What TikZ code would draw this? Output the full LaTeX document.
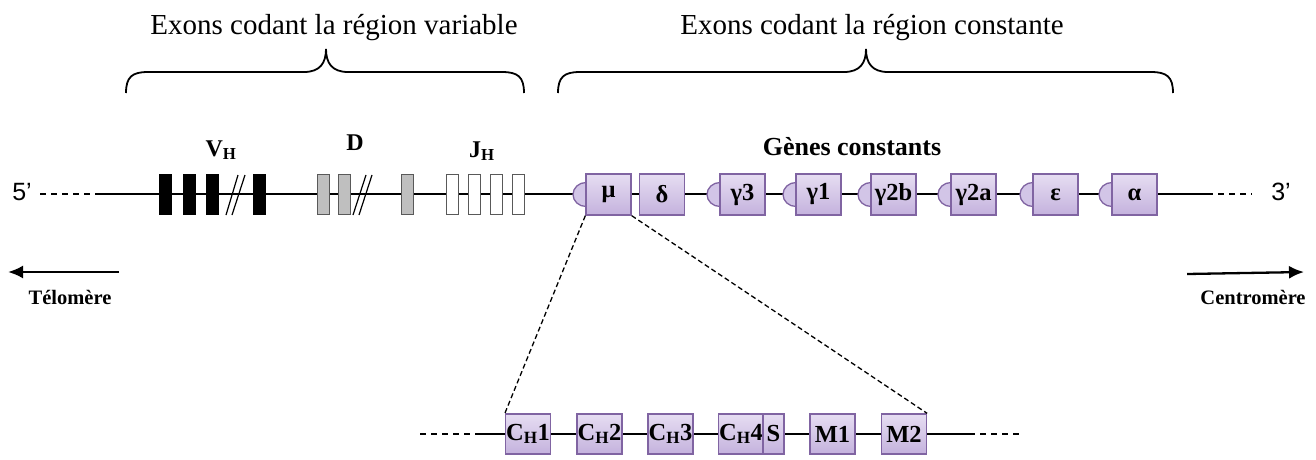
\documentclass[tikz,border=0pt]{standalone}
\usepackage{fontspec}
\setmainfont{Liberation Serif}
\newfontfamily\arialf{Liberation Sans}
\usetikzlibrary{shapes.geometric,arrows.meta}
\definecolor{lavtop}{HTML}{E6DDF2}
\definecolor{lavbot}{HTML}{C4B2DD}
\definecolor{lavborder}{HTML}{8064A2}
\definecolor{lavsemi}{HTML}{D2C5E7}
\definecolor{dgray}{HTML}{BFBFBF}
\definecolor{bordergray}{HTML}{595959}
\begin{document}
\begin{tikzpicture}[x=1pt,y=-1pt,
  gene/.style={draw=lavborder, line width=1.3pt, top color=lavtop, bottom color=lavbot,
    minimum width=45pt, minimum height=41pt, inner sep=0pt,
    font=\fontsize{24.5}{26}\selectfont\bfseries},
  genesm/.style={gene, minimum height=40pt},
  semi/.style={ellipse, draw=lavborder, line width=1.3pt, fill=lavsemi,
    minimum width=26pt, minimum height=24pt, inner sep=0pt},
  vbox/.style={fill=black, minimum width=13pt, minimum height=41pt, inner sep=0pt},
  dbox/.style={fill=dgray, draw=bordergray, line width=0.9pt, minimum width=12pt, minimum height=40pt, inner sep=0pt},
  jbox/.style={fill=white, draw=bordergray, line width=0.9pt, minimum width=12pt, minimum height=40pt, inner sep=0pt},
  backbone/.style={line width=1.8pt},
  dashbone/.style={line width=1.5pt, dash pattern=on 6pt off 5pt},
  slash/.style={line width=1.2pt},
  zoomline/.style={line width=1.3pt, dash pattern=on 5pt off 3pt},
  bracestyle/.style={line width=1.8pt},
  dirarrow/.style={line width=2.3pt, -{Latex[length=15pt,width=13pt]}},
  title/.style={font=\fontsize{29}{34}\selectfont, anchor=base},
  glabel/.style={font=\fontsize{24}{28}\selectfont\bfseries, anchor=base},
  dirlabel/.style={font=\fontsize{20.5}{24}\selectfont\bfseries, anchor=base},
  endlabel/.style={font=\arialf\fontsize{25}{28}\selectfont, inner sep=0pt}
]
\useasboundingbox (0,0) rectangle (1316,460);

% titles
\node[title] (t1) at (334,35) {Exons codant la région variable};
\node[title] (t2) at (872,35) {Exons codant la région constante};

% braces
\draw[bracestyle] (126,93) .. controls (126,77) and (132,72) .. (148,72) -- (304,72)
  .. controls (320,72) and (326,63) .. (326,49) .. controls (326,63) and (332,72) .. (348,72)
  -- (502,72) .. controls (518,72) and (524,77) .. (524,93);
\draw[bracestyle] (558,93) .. controls (558,77) and (564,72) .. (580,72) -- (844,72)
  .. controls (860,72) and (866,63) .. (866,49) .. controls (866,63) and (872,72) .. (888,72)
  -- (1151,72) .. controls (1167,72) and (1173,77) .. (1173,93);

% backbone
\coordinate (L0) at (40,194);
\coordinate (L1) at (97,194);
\coordinate (L2) at (1207,194);
\coordinate (L3) at (1252,194);
\draw[dashbone] (L0) -- (L1);
\draw[backbone] (L1) -- (L2);
\draw[dashbone] (L2) -- (L3);
\node[endlabel] (five) at (22,192) {5’};
\node[endlabel] (three) at (1281,192) {3’};

% V segments
\node[vbox] (v1) at (165.5,194.5) {};
\node[vbox] (v2) at (189.5,194.5) {};
\node[vbox] (v3) at (212.5,194.5) {};
\node[vbox] (v4) at (259.5,194.5) {};
\draw[slash] (226,215) -- (238,175);
\draw[slash] (232,215) -- (245,175);
\node[glabel] (vh) at (221,156) {V\textsubscript{H}};

% D segments
\node[dbox] (d1) at (323,194.5) {};
\node[dbox] (d2) at (344.5,194.5) {};
\node[dbox] (d3) at (407,194.5) {};
\draw[slash] (353,215) -- (366,175);
\draw[slash] (359,215) -- (372,175);
\node[glabel] (dl) at (355,150) {D};

% J segments
\node[jbox] (j1) at (452,194.5) {};
\node[jbox] (j2) at (474,194.5) {};
\node[jbox] (j3) at (496,194.5) {};
\node[jbox] (j4) at (518,194.5) {};
\node[glabel] (jh) at (482,157) {J\textsubscript{H}};

% constant genes
\node[glabel, font=\fontsize{26}{30}\selectfont\bfseries] (gc) at (852,155) {Gènes constants};
\node[semi] (smu) at (586,194.5) {};
\node[semi] (sg3) at (720,194.5) {};
\node[semi] (sg1) at (796,194.5) {};
\node[semi] (sg2b) at (871,194.5) {};
\node[semi] (sg2a) at (951,194.5) {};
\node[semi] (seps) at (1033,194.5) {};
\node[semi] (salp) at (1112,194.5) {};
\node[gene] (mu) at (608.5,194.5) {μ};
\node[gene] (delta) at (662,194.5) {δ};
\node[gene] (g3) at (742.5,194.5) {γ3};
\node[gene] (g1) at (818.5,194.5) {γ1};
\node[gene] (g2b) at (893.5,194.5) {γ2b};
\node[gene] (g2a) at (973.5,194.5) {γ2a};
\node[gene] (eps) at (1055.5,194.5) {ε};
\node[gene] (alp) at (1134.5,194.5) {α};

% direction arrows
\coordinate (tel0) at (119,272);
\coordinate (tel1) at (8,272);
\coordinate (cen0) at (1187,274);
\coordinate (cen1) at (1304,272);
\draw[dirarrow] (tel0) -- (tel1);
\draw[dirarrow] (cen0) -- (cen1);
\node[dirlabel] (tel) at (70,304) {Télomère};
\node[dirlabel] (cen) at (1253,304) {Centromère};

% mu detail
\coordinate (B0) at (420,434);
\coordinate (B1) at (476,434);
\coordinate (B2) at (969,434);
\coordinate (B3) at (1020,434);
\draw[dashbone] (B0) -- (B1);
\draw[backbone] (B1) -- (B2);
\draw[dashbone] (B2) -- (B3);
\node[genesm] (ch1) at (528,434) {C\textsubscript{H}1};
\node[genesm] (ch2) at (599.5,434) {C\textsubscript{H}2};
\node[genesm] (ch3) at (670.5,434) {C\textsubscript{H}3};
\node[genesm] (ch4) at (741,434) {C\textsubscript{H}4};
\node[genesm, minimum width=21pt] (sreg) at (773.5,434) {S};
\node[genesm] (m1) at (832.5,434) {M1};
\node[genesm] (m2) at (904,434) {M2};
\draw[zoomline] (mu.south west) -- (ch1.north west);
\draw[zoomline] (mu.south east) -- (m2.north east);
\end{tikzpicture}
\end{document}
